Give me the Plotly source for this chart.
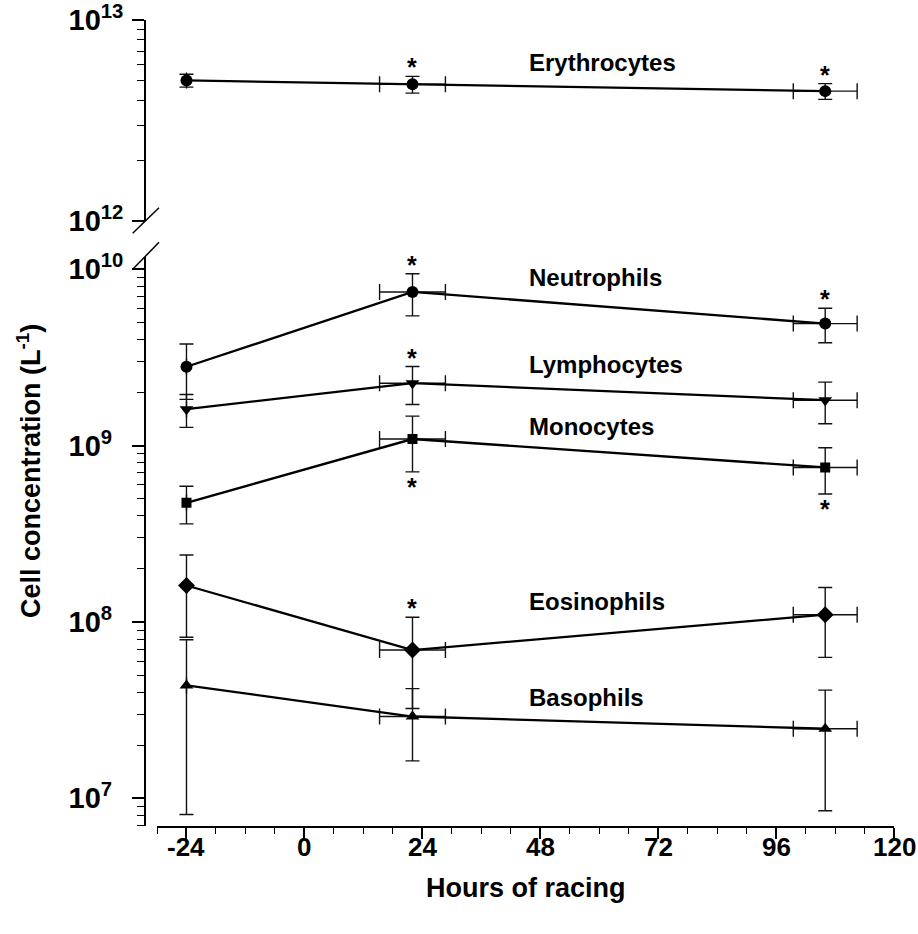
import math
import plotly.graph_objects as go

W, H = 918, 934

# Sampling times (h) and their spread
hours = [-24, 22, 106]
hours_sd = [None, 6.7, 6.5]

# Mean cell concentrations (per litre) and standard deviations
erythrocytes = [5.01e12, 4.79e12, 4.43e12]
erythrocytes_sd = [0.37e12, 0.46e12, 0.40e12]
neutrophils = [2.80e9, 7.44e9, 4.92e9]
neutrophils_sd = [0.97e9, 2.00e9, 1.09e9]
lymphocytes = [1.61e9, 2.26e9, 1.81e9]
lymphocytes_sd = [0.34e9, 0.55e9, 0.48e9]
monocytes = [4.74e8, 1.09e9, 7.52e8]
monocytes_sd = [1.14e8, 0.38e9, 2.20e8]
eosinophils = [1.61e8, 6.93e7, 1.10e8]
eosinophils_sd = [7.9e7, 3.7e7, 4.7e7]
basophils = [4.37e7, 2.91e7, 2.48e7]
basophils_sd = [3.56e7, 1.28e7, 1.63e7]

# Significance flags: where the asterisk goes relative to the error bar
erythrocytes_sig = [None, "above", "above"]
neutrophils_sig = [None, "above", "above"]
lymphocytes_sig = [None, "above", None]
monocytes_sig = [None, "below", "below"]
eosinophils_sig = [None, "above", None]
basophils_sig = [None, None, None]

x_ticks = [-24, 0, 24, 48, 72, 96, 120]

series = [
    ("Erythrocytes", erythrocytes, erythrocytes_sd, erythrocytes_sig, "circle", "y2", 6.17e12),
    ("Neutrophils", neutrophils, neutrophils_sd, neutrophils_sig, "circle", "y", 9.04e9),
    ("Lymphocytes", lymphocytes, lymphocytes_sd, lymphocytes_sig, "triangle-down", "y", 2.90e9),
    ("Monocytes", monocytes, monocytes_sd, monocytes_sig, "square", "y", 1.28e9),
    ("Eosinophils", eosinophils, eosinophils_sd, eosinophils_sig, "diamond", "y", 1.31e8),
    ("Basophils", basophils, basophils_sd, basophils_sig, "triangle-up", "y", 3.74e7),
]
marker_size = {"circle": 12, "triangle-down": 12, "square": 10, "diamond": 13, "triangle-up": 12}


def px(x):
    return x / W


def py(y):
    return 1 - y / H


FONT = "Liberation Sans, Arial, Helvetica, sans-serif"

fig = go.Figure()
annotations = []

for name, vals, sds, sig, sym, yax, label_y in series:
    fig.add_trace(go.Scatter(
        x=hours, y=vals, yaxis=yax, mode="lines+markers", name=name,
        line=dict(color="black", width=2.3),
        marker=dict(symbol=sym, size=marker_size[sym], color="black"),
        error_y=dict(type="data", array=sds, color="#111", thickness=1.4, width=7),
        error_x=dict(type="data", array=hours_sd, color="#111", thickness=1.4, width=8),
        showlegend=False,
    ))
    annotations.append(dict(
        x=45.3, y=math.log10(label_y), xref="x", yref=yax, text=f"<b>{name}</b>",
        showarrow=False, xanchor="left", yanchor="middle",
        font=dict(family=FONT, size=24, color="black"),
    ))
    for h, v, s, flag in zip(hours, vals, sds, sig):
        if flag is None:
            continue
        end = v + s if flag == "above" else v - s
        annotations.append(dict(
            x=h, y=math.log10(end), xref="x", yref=yax, text="<b>*</b>",
            showarrow=False, xanchor="center", yanchor="middle",
            yshift=9 if flag == "above" else -15,
            font=dict(family=FONT, size=25, color="black"),
        ))

# x tick labels, set close under the axis
for t in x_ticks:
    annotations.append(dict(
        x=t, y=py(847), xref="x", yref="paper", text=f"<b>{t}</b>",
        showarrow=False, xanchor="center", yanchor="middle",
        font=dict(family=FONT, size=26, color="black"),
    ))

# Axis titles
annotations.append(dict(
    x=px(526), y=py(888), xref="paper", yref="paper", text="<b>Hours of racing</b>",
    showarrow=False, xanchor="center", yanchor="middle",
    font=dict(family=FONT, size=27, color="black"),
))
annotations.append(dict(
    x=px(29), y=py(471), xref="paper", yref="paper",
    text="<b>Cell concentration (L<sup>-1</sup>)</b>", textangle=-90,
    showarrow=False, xanchor="center", yanchor="middle",
    font=dict(family=FONT, size=27, color="black"),
))


def decade_label(e):
    pad = "\u2007" if e < 10 else ""
    return f"<b>10<sup>{e}{pad}</sup></b>"


low_major = [1e7, 1e8, 1e9, 1e10]
low_minor = [k * 10 ** e for e in range(6, 10) for k in range(2, 10) if k * 10 ** e >= 7e6]
top_major = [1e12, 1e13]
top_minor = [k * 1e12 for k in range(2, 10)]

axis_common = dict(
    showline=True, linecolor="black", linewidth=1.7, ticks="outside", tickcolor="black",
    tickwidth=1.5, showgrid=False, zeroline=False, automargin=False,
    tickfont=dict(family=FONT, size=29, color="black"),
)

fig.update_layout(
    width=W, height=H, margin=dict(l=0, r=0, t=0, b=0, autoexpand=False),
    paper_bgcolor="white", plot_bgcolor="white",
    xaxis=dict(
        domain=[px(157), px(894)], range=[-30, 120], anchor="y",
        tickmode="array", tickvals=x_ticks, showticklabels=False,
        ticklen=11, minor=dict(ticks="outside", ticklen=6, tickwidth=1.3, dtick=6, tick0=0,
                               tickcolor="black"),
        **axis_common,
    ),
    yaxis=dict(
        type="log", domain=[py(826), py(256.7)],
        range=[math.log10(7e6) - 0.002, 10 + (269.3 - 256.7) / 176.6],
        anchor="free", position=px(145),
        tickmode="array", tickvals=low_major, ticktext=[decade_label(e) for e in (7, 8, 9, 10)],
        ticklen=12, ticklabelstandoff=3,
        minor=dict(ticks="outside", ticklen=7, tickwidth=1.3, tickmode="array",
                   tickvals=low_minor, tickcolor="black"),
        **axis_common,
    ),
    yaxis2=dict(
        type="log", domain=[py(221), py(20)], range=[11.999, 13.001],
        anchor="free", position=px(145),
        tickmode="array", tickvals=top_major, ticktext=[decade_label(e) for e in (12, 13)],
        ticklen=12, ticklabelstandoff=3,
        minor=dict(ticks="outside", ticklen=7, tickwidth=1.3, tickmode="array",
                   tickvals=top_minor, tickcolor="black"),
        **axis_common,
    ),
    annotations=annotations,
    shapes=[
        # axis break marks
        dict(type="line", xref="paper", yref="paper", x0=px(132.7), y0=py(233.3),
             x1=px(159), y1=py(207.7), line=dict(color="black", width=1.5)),
        dict(type="line", xref="paper", yref="paper", x0=px(132.7), y0=py(269.3),
             x1=px(159), y1=py(242.3), line=dict(color="black", width=1.5)),
    ],
)

fig.write_html("out.html")
